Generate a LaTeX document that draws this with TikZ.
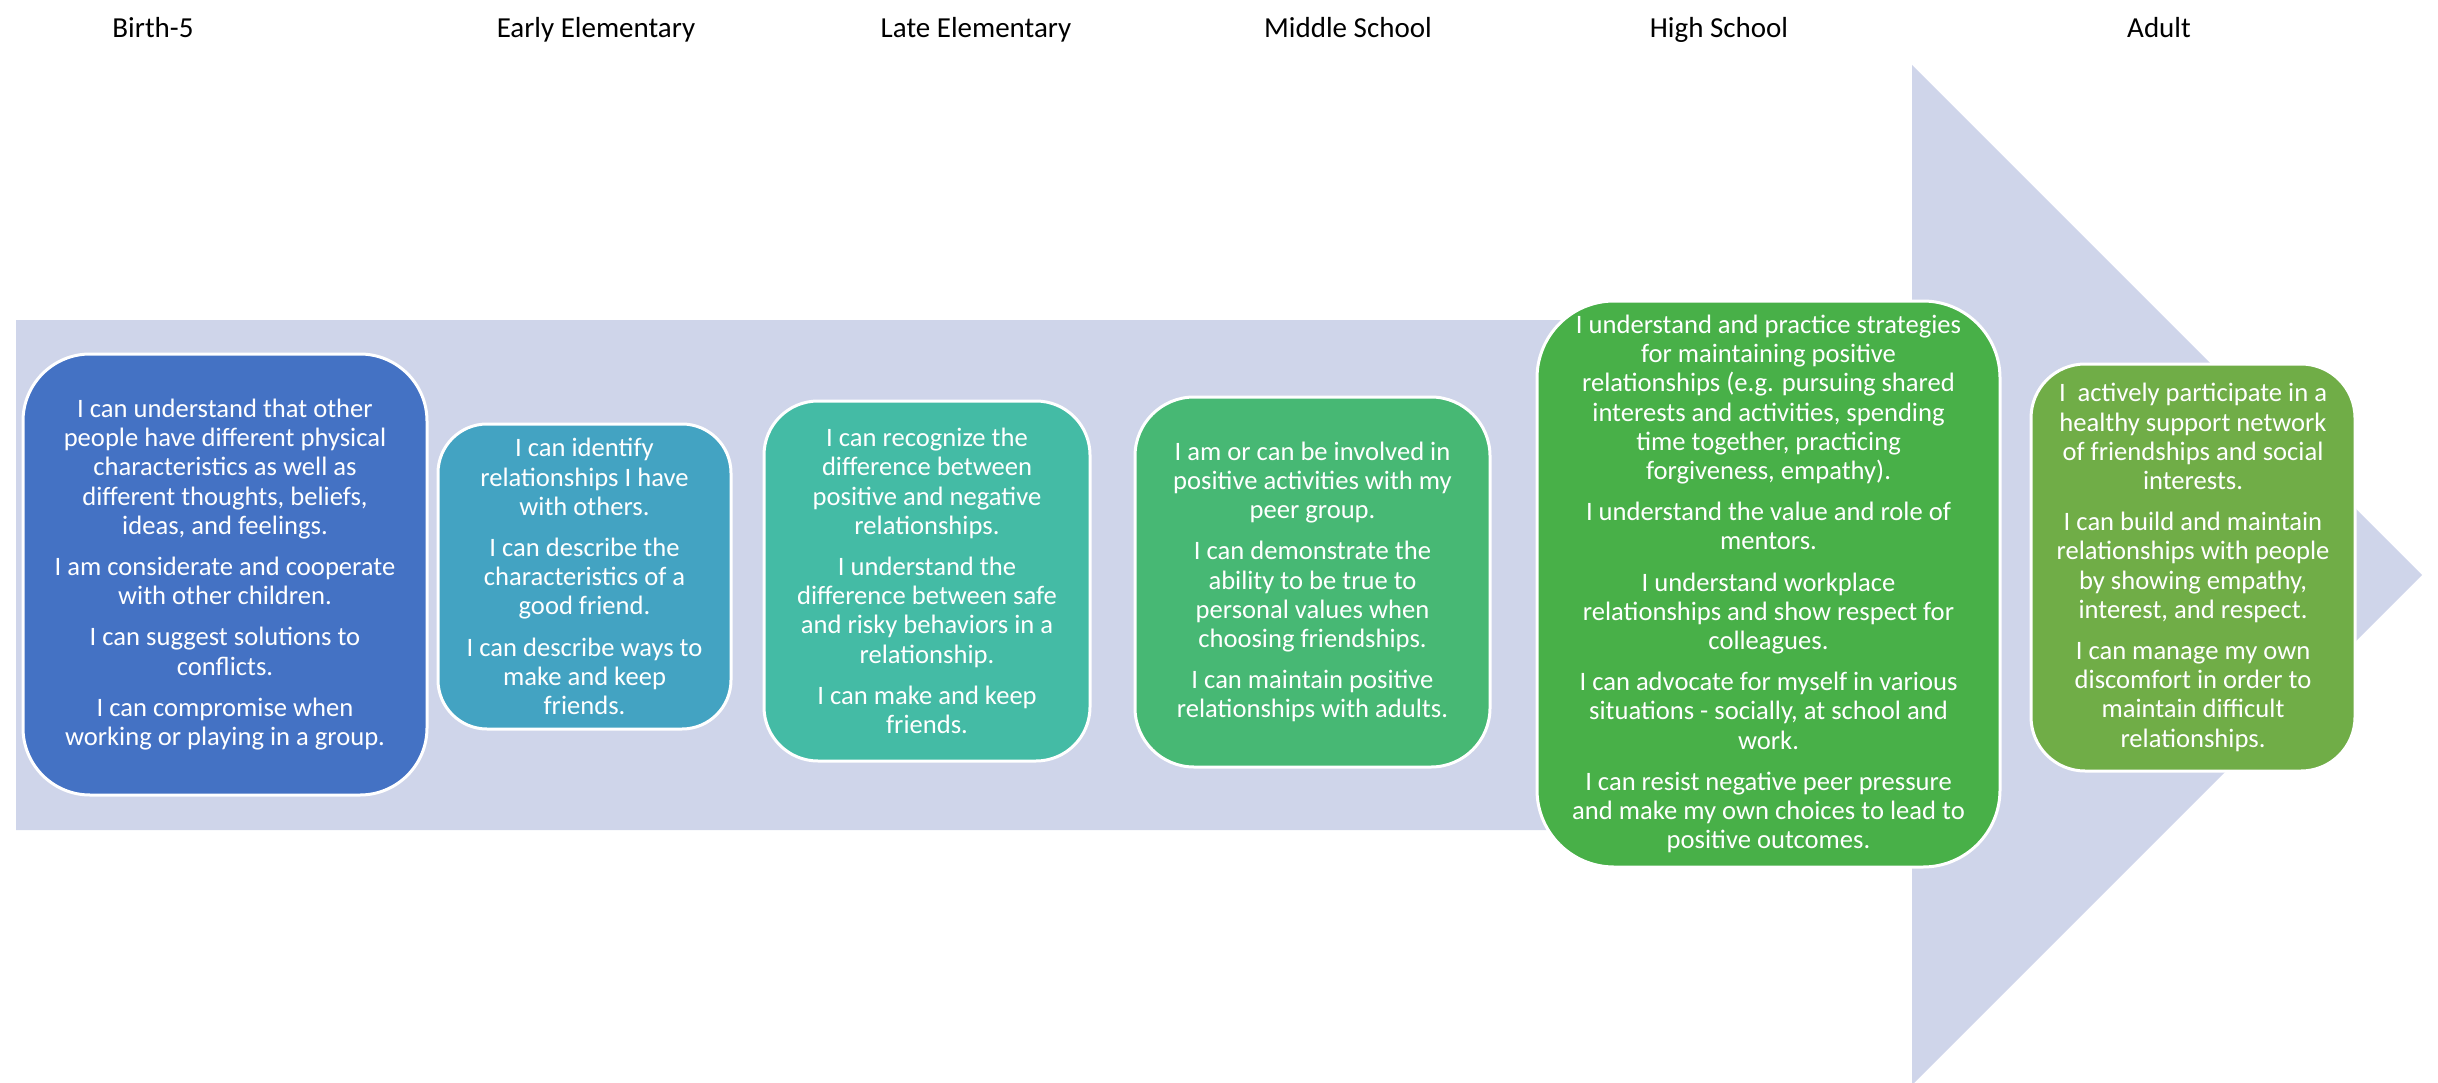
\documentclass[tikz,border=0pt]{standalone}
\usepackage{fontspec}
\setmainfont{Carlito}
\definecolor{band}{HTML}{CFD5EA}
\definecolor{stageA}{HTML}{4472C4}
\definecolor{stageB}{HTML}{43A3C2}
\definecolor{stageC}{HTML}{44BBA5}
\definecolor{stageD}{HTML}{47B874}
\definecolor{stageE}{HTML}{48B048}
\definecolor{stageF}{HTML}{70AD47}
\begin{document}
\begin{tikzpicture}[x=1pt, y=-1pt,
    stage/.style={draw=white, line width=3pt, text=white, align=center,
        inner sep=0pt, font=\fontsize{26.6}{29.2}\selectfont},
    heading/.style={anchor=base, font=\fontsize{29}{34}\selectfont}]
    \useasboundingbox (0, 0) rectangle (2438, 1083);
    \fill[band] (16, 320) -- (1912, 320) -- (1912, 65) -- (2422, 575)
        -- (1912, 1085) -- (1912, 830) -- (16, 830) -- cycle;
    \node[heading] (hBirth) at (153, 38) {Birth-5};
    \node[heading] (hEarly) at (596, 38) {Early Elementary};
    \node[heading] (hLate) at (976, 38) {Late Elementary};
    \node[heading] (hMiddle) at (1348, 38) {Middle School};
    \node[heading] (hHigh) at (1719, 38) {High School};
    \node[heading] (hAdult) at (2159, 38) {Adult};
    \node[stage, fill=stageA, minimum width=404pt, minimum height=441pt,
        rounded corners=67pt] (birth) at (225, 574.5)
        {I can understand that other\\people have different physical\\
         characteristics as well as\\different thoughts, beliefs,\\
         ideas, and feelings.\\[12pt]
         I am considerate and cooperate\\with other children.\\[12pt]
         I can suggest solutions to\\conflicts.\\[12pt]
         I can compromise when\\working or playing in a group.};
    \node[stage, fill=stageB, minimum width=293pt, minimum height=305pt,
        rounded corners=49pt] (early) at (584.5, 576.5)
        {I can identify\\relationships I have\\with others.\\[12pt]
         I can describe the\\characteristics of a\\good friend.\\[12pt]
         I can describe ways to\\make and keep\\friends.};
    \node[stage, fill=stageC, minimum width=326pt, minimum height=360pt,
        rounded corners=54pt] (late) at (927, 581)
        {I can recognize the\\difference between\\positive and negative\\
         relationships.\\[12pt]
         I understand the\\difference between safe\\
         and risky behaviors in a\\relationship.\\[12pt]
         I can make and keep\\friends.};
    \node[stage, fill=stageD, minimum width=355pt, minimum height=370pt,
        rounded corners=59pt] (middle) at (1312.5, 582)
        {I am or can be involved in\\positive activities with my\\
         peer group.\\[12pt]
         I can demonstrate the\\ability to be true to\\
         personal values when\\choosing friendships.\\[12pt]
         I can maintain positive\\relationships with adults.};
    \node[stage, fill=stageE, minimum width=463pt, minimum height=566pt,
        rounded corners=77pt] (high) at (1768.5, 584)
        {I understand and practice strategies\\for maintaining positive\\
         relationships (e.g. pursuing shared\\interests and activities, spending\\
         time together, practicing\\forgiveness, empathy).\\[12pt]
         I understand the value and role of\\mentors.\\[12pt]
         I understand workplace\\relationships and show respect for\\
         colleagues.\\[12pt]
         I can advocate for myself in various\\situations - socially, at school and\\
         work.\\[12pt]
         I can resist negative peer pressure\\and make my own choices to lead to\\
         positive outcomes.};
    \node[stage, fill=stageF, minimum width=324pt, minimum height=407pt,
        rounded corners=54pt] (adult) at (2193, 567.5)
        {I~~actively participate in a\\healthy support network\\
         of friendships and social\\interests.\\[12pt]
         I can build and maintain\\relationships with people\\
         by showing empathy,\\interest, and respect.\\[12pt]
         I can manage my own\\discomfort in order to\\
         maintain difficult\\relationships.};
\end{tikzpicture}
\end{document}
